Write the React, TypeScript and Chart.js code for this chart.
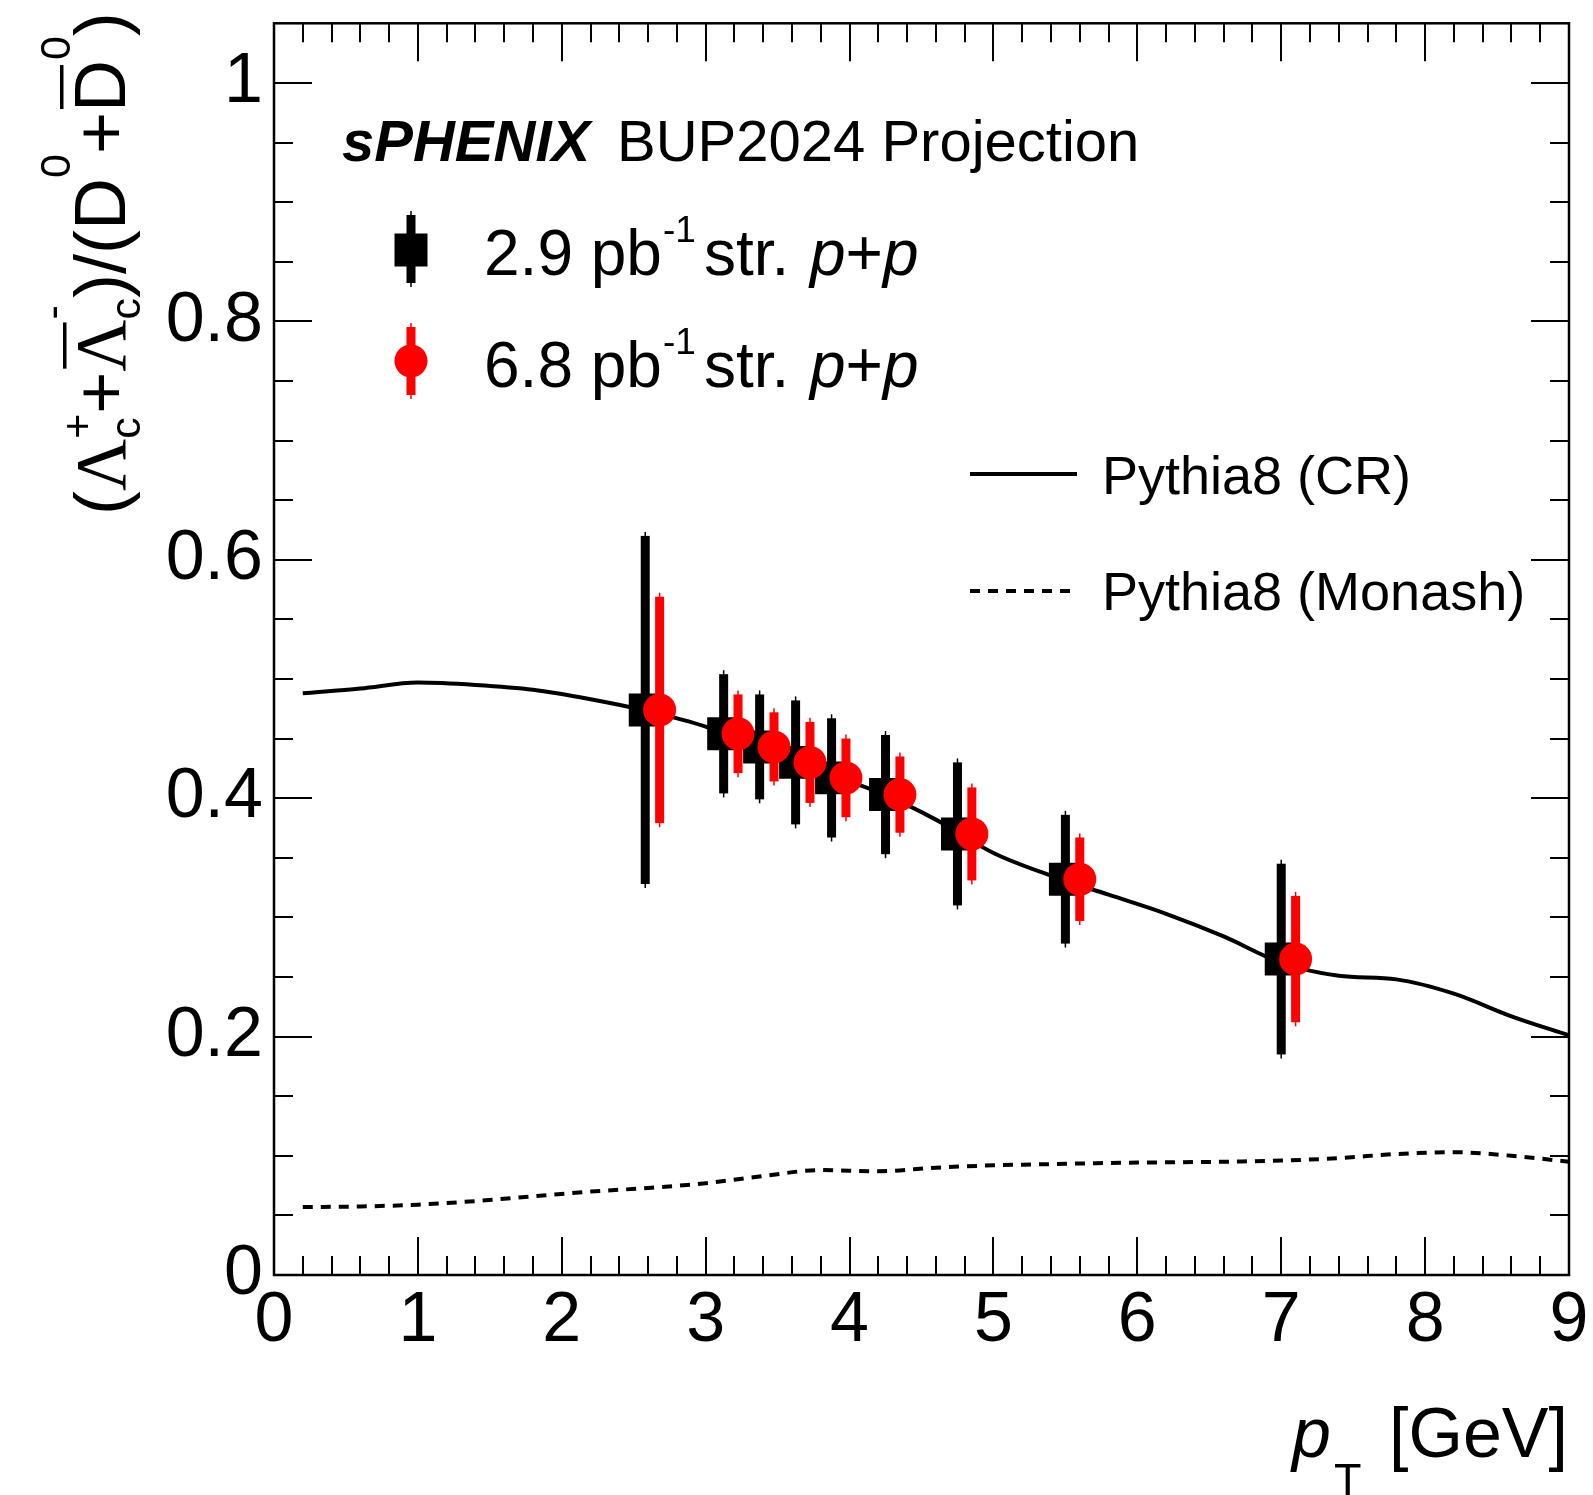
import React, { useEffect, useRef } from 'react';
import { Chart, registerables } from 'chart.js';

Chart.register(...registerables);

// ---- data ----
const blackX = [2.58, 3.125, 3.375, 3.625, 3.875, 4.25, 4.75, 5.5, 7.0];
const redX = [2.68, 3.225, 3.475, 3.725, 3.975, 4.35, 4.85, 5.6, 7.1];
const ratioY = [0.474, 0.454, 0.443, 0.43, 0.417, 0.403, 0.37, 0.332, 0.265];
const blackErr = [0.146, 0.05, 0.044, 0.052, 0.05, 0.05, 0.06, 0.054, 0.08];
const redErr = [0.095, 0.033, 0.029, 0.034, 0.033, 0.032, 0.039, 0.035, 0.053];

const modelX = [0.2, 0.6, 1.0, 1.4, 1.8, 2.2, 2.6, 3.0, 3.4, 3.8, 4.2, 4.6, 5.0, 5.4, 5.8, 6.2, 6.6, 7.0, 7.4, 7.8, 8.2, 8.6, 9.0];
const crY = [0.488, 0.492, 0.497, 0.495, 0.491, 0.483, 0.473, 0.46, 0.441, 0.422, 0.405, 0.382, 0.354, 0.335, 0.319, 0.303, 0.284, 0.262, 0.251, 0.248, 0.236, 0.217, 0.201];
const monashY = [0.057, 0.0575, 0.059, 0.062, 0.066, 0.07, 0.073, 0.077, 0.083, 0.088, 0.087, 0.09, 0.092, 0.093, 0.094, 0.0945, 0.095, 0.096, 0.098, 0.1015, 0.103, 0.1, 0.095];

const xTicks = [0, 1, 2, 3, 4, 5, 6, 7, 8, 9];
const yTicks = [0, 0.2, 0.4, 0.6, 0.8, 1.0];

const W = 1593;
const H = 1495;
const SANS = '"Liberation Sans", Arial, Helvetica, sans-serif';
const SERIF = '"Liberation Serif", "Times New Roman", serif';

function pts(xs: number[], ys: number[]) {
  return xs.map((x, i) => ({ x, y: ys[i] }));
}

function errBar(ctx: CanvasRenderingContext2D, x: number, yTop: number, yBot: number, color: string) {
  ctx.fillStyle = color;
  ctx.fillRect(x - 4.5, yTop, 9, yBot - yTop);
  ctx.strokeStyle = color;
  ctx.lineWidth = 1.5;
  ctx.beginPath();
  ctx.moveTo(x, yTop - 4);
  ctx.lineTo(x, yBot + 4);
  ctx.stroke();
}

const errorBarPlugin = {
  id: 'errorBars',
  beforeDatasetDraw(chart: any, args: any) {
    const ds = chart.data.datasets[args.index];
    if (!ds.errors) return;
    const ctx = chart.ctx;
    const xs = chart.scales.x;
    const ys = chart.scales.y;
    ctx.save();
    ds.data.forEach((p: any, i: number) => {
      const px = xs.getPixelForValue(p.x);
      const top = ys.getPixelForValue(p.y + ds.errors[i]);
      const bot = ys.getPixelForValue(p.y - ds.errors[i]);
      errBar(ctx, px, top, bot, ds.backgroundColor);
    });
    ctx.restore();
  },
};

function legendText(ctx: CanvasRenderingContext2D, lumi: string, y: number) {
  const F = `64px ${SANS}`;
  const FI = `italic 64px ${SANS}`;
  const FS = `37px ${SANS}`;
  ctx.font = F;
  ctx.fillText(lumi + ' pb', 484, y);
  ctx.font = FS;
  ctx.fillText('-1', 663, y - 33);
  ctx.font = F;
  ctx.fillText('str.', 704, y);
  let x = 810;
  ctx.font = FI;
  ctx.fillText('p', x, y);
  x += ctx.measureText('p').width;
  ctx.font = F;
  ctx.fillText('+', x, y);
  x += ctx.measureText('+').width;
  ctx.font = FI;
  ctx.fillText('p', x, y);
}

const decorPlugin = {
  id: 'decor',
  afterDraw(chart: any) {
    const ctx: CanvasRenderingContext2D = chart.ctx;
    const { left, right, top, bottom } = chart.chartArea;
    const xs = chart.scales.x;
    const ys = chart.scales.y;
    ctx.save();
    ctx.strokeStyle = '#000';
    ctx.fillStyle = '#000';
    // ticks
    ctx.lineWidth = 2;
    ctx.beginPath();
    for (let k = 1; k < 45; k++) {
      const px = Math.round(xs.getPixelForValue(k * 0.2));
      const len = k % 5 === 0 ? 38 : 19;
      ctx.moveTo(px, bottom);
      ctx.lineTo(px, bottom - len);
      ctx.moveTo(px, top);
      ctx.lineTo(px, top + len);
    }
    for (let k = 1; k <= 20; k++) {
      const py = Math.round(ys.getPixelForValue(k * 0.05));
      const len = k % 4 === 0 ? 38 : 19;
      ctx.moveTo(left, py);
      ctx.lineTo(left + len, py);
      ctx.moveTo(right, py);
      ctx.lineTo(right - len, py);
    }
    ctx.stroke();
    // frame
    ctx.lineWidth = 2.5;
    ctx.strokeRect(left, top, right - left, bottom - top);

    // header
    ctx.textBaseline = 'alphabetic';
    ctx.textAlign = 'left';
    ctx.font = `italic bold 58px ${SANS}`;
    ctx.fillText('sPHENIX', 342, 161);
    ctx.font = `58px ${SANS}`;
    ctx.fillText('BUP2024 Projection', 617, 161);

    // legend: data
    errBar(ctx, 411, 215, 283, '#000');
    ctx.fillStyle = '#000';
    ctx.fillRect(411 - 16.5, 250 - 16.5, 33, 33);
    legendText(ctx, '2.9', 275);
    errBar(ctx, 411, 327, 395, '#ff0000');
    ctx.fillStyle = '#ff0000';
    ctx.beginPath();
    ctx.arc(411, 361, 16.5, 0, Math.PI * 2);
    ctx.fill();
    ctx.fillStyle = '#000';
    legendText(ctx, '6.8', 387);

    // legend: models
    ctx.strokeStyle = '#000';
    ctx.lineWidth = 4;
    ctx.beginPath();
    ctx.moveTo(970, 474);
    ctx.lineTo(1077, 474);
    ctx.stroke();
    ctx.setLineDash([10, 8]);
    ctx.beginPath();
    ctx.moveTo(970, 591);
    ctx.lineTo(1077, 591);
    ctx.stroke();
    ctx.setLineDash([]);
    ctx.font = `54px ${SANS}`;
    ctx.fillText('Pythia8 (CR)', 1102, 494);
    ctx.fillText('Pythia8 (Monash)', 1102, 610);

    // x title
    ctx.font = `italic 70px ${SANS}`;
    ctx.fillText('p', 1292, 1457);
    ctx.font = `45px ${SANS}`;
    ctx.fillText('T', 1334, 1495);
    ctx.font = `70px ${SANS}`;
    ctx.fillText('[GeV]', 1389, 1457);

    // y title (rotated)
    ctx.save();
    ctx.translate(125, 515);
    ctx.rotate(-Math.PI / 2);
    const M = `72px ${SANS}`;
    const L = `72px ${SERIF}`;
    const S = `43px ${SANS}`;
    let x = 0;
    const put = (t: string, f: string, dy = 0) => {
      ctx.font = f;
      ctx.fillText(t, x, dy);
      const w = ctx.measureText(t).width;
      x += w;
      return w;
    };
    const stack = (sub: string, sup: string, supDy: number) => {
      ctx.font = S;
      ctx.fillText(sub, x, 15);
      ctx.fillText(sup, x, supDy);
      x += Math.max(ctx.measureText(sub).width, ctx.measureText(sup).width);
    };
    put('(', M);
    put('\u039B', L);
    stack('c', '+', -33);
    put('+', M);
    let ox = x;
    let ow = put('\u039B', L);
    ctx.fillRect(ox + 3, -62, ow - 6, 3.5);
    stack('c', '-', -58);
    put(')', M);
    put('/', M);
    put('(', M);
    put('D', M);
    put('0', S, -55);
    put('+', M);
    ox = x;
    ow = put('D', M);
    ctx.fillRect(ox + 3, -65, ow - 8, 3.5);
    put('0', S, -55);
    put(')', M);
    ctx.restore();

    ctx.restore();
  },
};

export default function App() {
  const ref = useRef<HTMLCanvasElement>(null);
  useEffect(() => {
    const canvas = ref.current;
    if (!canvas) return;
    const tickFont = { family: SANS, size: 70 };
    const chart = new Chart(canvas, {
      type: 'scatter',
      data: {
        datasets: [
          {
            label: '6.8 pb-1 str. p+p',
            data: pts(redX, ratioY),
            errors: redErr,
            backgroundColor: '#ff0000',
            borderColor: '#ff0000',
            pointStyle: 'circle',
            pointRadius: 16.5,
            pointBorderWidth: 0,
            showLine: false,
            order: 0,
          } as any,
          {
            label: '2.9 pb-1 str. p+p',
            data: pts(blackX, ratioY),
            errors: blackErr,
            backgroundColor: '#000000',
            borderColor: '#000000',
            pointStyle: 'rect',
            pointRadius: 23.3,
            pointBorderWidth: 0,
            showLine: false,
            order: 1,
          } as any,
          {
            label: 'Pythia8 (CR)',
            data: pts(modelX, crY),
            borderColor: '#000000',
            backgroundColor: '#000000',
            borderWidth: 4,
            pointRadius: 0,
            showLine: true,
            cubicInterpolationMode: 'monotone',
            order: 2,
          } as any,
          {
            label: 'Pythia8 (Monash)',
            data: pts(modelX, monashY),
            borderColor: '#000000',
            backgroundColor: '#000000',
            borderWidth: 4,
            borderDash: [10, 8],
            pointRadius: 0,
            showLine: true,
            cubicInterpolationMode: 'monotone',
            order: 3,
          } as any,
        ],
      },
      options: {
        responsive: false,
        animation: false,
        devicePixelRatio: 1,
        events: [],
        layout: { padding: { left: 0, right: 24, top: 18, bottom: 0 } },
        plugins: { legend: { display: false }, tooltip: { enabled: false } },
        scales: {
          x: {
            type: 'linear',
            min: 0,
            max: 9,
            grid: { display: false, drawTicks: false },
            border: { display: false },
            afterBuildTicks: (s: any) => {
              s.ticks = xTicks.map((v) => ({ value: v }));
            },
            afterFit: (s: any) => {
              s.height = 220;
              s.paddingLeft = 0;
              s.paddingRight = 0;
              s.paddingTop = 0;
              s.paddingBottom = 0;
            },
            ticks: { font: tickFont, color: '#000', padding: 5, maxRotation: 0, autoSkip: false },
          },
          y: {
            type: 'linear',
            min: 0,
            max: 1.05,
            grid: { display: false, drawTicks: false },
            border: { display: false },
            afterBuildTicks: (s: any) => {
              s.ticks = yTicks.map((v) => ({ value: v }));
            },
            afterFit: (s: any) => {
              s.width = 274;
              s.paddingLeft = 0;
              s.paddingRight = 0;
              s.paddingTop = 0;
              s.paddingBottom = 0;
            },
            ticks: {
              font: tickFont,
              color: '#000',
              padding: 11,
              autoSkip: false,
              callback: (v: any) => String(Math.round(Number(v) * 10) / 10),
            },
          },
        },
      } as any,
      plugins: [errorBarPlugin, decorPlugin],
    });
    return () => chart.destroy();
  }, []);
  return (
    <div style={{ position: 'fixed', left: 0, top: 0, width: W, height: H, background: '#fff' }}>
      <canvas ref={ref} width={W} height={H} style={{ display: 'block', width: W, height: H }} />
    </div>
  );
}
